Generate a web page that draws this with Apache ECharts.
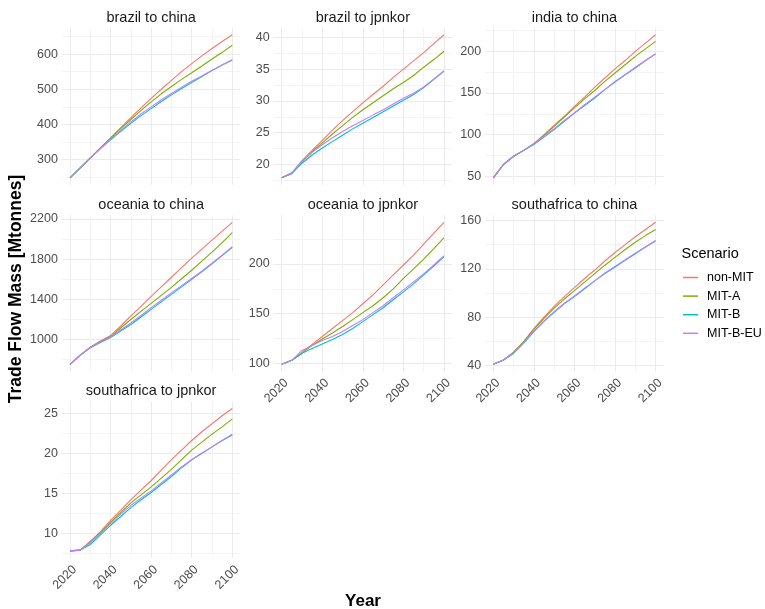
<!DOCTYPE html>
<html>
<head>
<meta charset="utf-8">
<script src="https://cdn.jsdelivr.net/npm/echarts@6/dist/echarts.min.js"></script>
<style>
  html, body { margin: 0; padding: 0; background: #ffffff; }
  #chart { width: 765px; height: 609px; }
</style>
</head>
<body>
<div id="chart"></div>
<script>
// ---- data ---------------------------------------------------------------
const years = [2020, 2025, 2030, 2035, 2040, 2045, 2050, 2055, 2060, 2065, 2070, 2075, 2080, 2085, 2090, 2095, 2100];
const scenarios = ['non-MIT', 'MIT-A', 'MIT-B', 'MIT-B-EU'];
const yearTicks = [2020, 2040, 2060, 2080, 2100];

// rows: non-MIT, MIT-A, MIT-B, MIT-B-EU
const brazilToChina = [
  [248, 276, 305, 333, 362, 391, 419, 447, 474, 500, 525, 550, 573, 595, 616, 636, 655],
  [248, 276, 305, 333, 361, 388, 414, 440, 464, 487, 508, 528, 547, 566, 586, 605, 625],
  [248, 276, 304, 331, 356, 380, 403, 425, 445, 465, 484, 502, 519, 536, 553, 569, 583],
  [248, 276, 304, 332, 358, 383, 407, 430, 450, 470, 488, 506, 523, 538, 554, 569, 584]
];
const brazilToChinaTicks = [300, 400, 500, 600];

const brazilToJpnkor = [
  [17.9, 18.7, 20.6, 22.2, 23.8, 25.4, 26.9, 28.3, 29.7, 31.0, 32.3, 33.7, 35.0, 36.3, 37.6, 39.0, 40.4],
  [17.9, 18.6, 20.4, 22.0, 23.4, 24.8, 26.1, 27.4, 28.6, 29.7, 30.8, 31.9, 32.9, 34.0, 35.3, 36.5, 37.8],
  [17.9, 18.6, 20.2, 21.5, 22.6, 23.6, 24.6, 25.6, 26.5, 27.4, 28.3, 29.2, 30.1, 31.0, 32.1, 33.4, 34.7],
  [17.9, 18.7, 20.5, 21.9, 23.1, 24.2, 25.2, 26.1, 26.9, 27.8, 28.6, 29.5, 30.4, 31.2, 32.2, 33.4, 34.7]
];
const brazilToJpnkorTicks = [20, 25, 30, 35, 40];

const indiaToChina = [
  [48, 64, 74, 81, 89, 100, 111, 122, 134, 145, 157, 168, 179, 189, 200, 210, 220],
  [48, 64, 74, 81, 89, 99, 110, 121, 132, 143, 153, 164, 174, 184, 194, 203, 212],
  [48, 64, 74, 81, 88, 97, 106, 116, 126, 135, 144, 154, 163, 172, 180, 189, 197],
  [48, 64, 74, 81, 89, 98, 107, 117, 126, 136, 145, 154, 164, 172, 181, 189, 197]
];
const indiaToChinaTicks = [50, 100, 150, 200];

const oceaniaToChina = [
  [754, 845, 925, 985, 1040, 1135, 1235, 1330, 1430, 1525, 1620, 1715, 1810, 1900, 1990, 2080, 2167],
  [754, 845, 923, 980, 1030, 1115, 1200, 1280, 1360, 1440, 1520, 1605, 1690, 1780, 1870, 1965, 2064],
  [754, 843, 918, 970, 1020, 1085, 1150, 1225, 1300, 1375, 1450, 1525, 1600, 1675, 1755, 1835, 1918],
  [754, 845, 921, 975, 1026, 1095, 1165, 1240, 1318, 1392, 1465, 1537, 1608, 1680, 1760, 1840, 1924]
];
const oceaniaToChinaTicks = [1000, 1400, 1800, 2200];

const oceaniaToJpnkor = [
  [99, 103, 111, 119, 127, 135, 143, 151, 160, 169, 179, 189, 199, 209, 220, 231, 242],
  [99, 103, 110, 118, 124.5, 130.5, 137, 144, 151, 158, 166, 175, 185.5, 195, 205, 215.5, 226.5],
  [99, 103, 110, 115, 119.5, 124, 129, 135, 142, 149, 156, 164, 172, 180, 189, 198, 207.5],
  [99, 103, 113, 118, 123, 127, 132, 138, 144, 151, 158, 166, 174, 182, 190, 199, 208.5]
];
const oceaniaToJpnkorTicks = [100, 150, 200];

const southafricaToChina = [
  [41, 44.5, 51, 60, 70.5, 80, 89, 97, 104.5, 112, 119, 126.5, 133.5, 140, 146.5, 152.5, 158.5],
  [41, 44.5, 51, 59.5, 70, 79, 87.5, 95, 102, 109, 116, 123, 129.5, 136, 142, 147.5, 152.5],
  [41, 44.5, 50, 58.5, 68, 76.5, 84, 91, 97, 103.5, 110, 116, 121.5, 127, 132.5, 138, 143],
  [41, 44.5, 50.5, 59, 68.5, 77, 84.5, 91.5, 97.5, 104, 110, 116.5, 122, 127.5, 133, 138, 143.5]
];
const southafricaToChinaTicks = [40, 80, 120, 160];

const southafricaToJpnkor = [
  [7.8, 7.9, 9.0, 10.2, 11.6, 12.9, 14.2, 15.4, 16.6, 17.9, 19.2, 20.4, 21.6, 22.7, 23.7, 24.7, 25.6],
  [7.8, 7.9, 8.9, 10.1, 11.4, 12.6, 13.8, 14.8, 15.8, 16.9, 18.0, 19.2, 20.4, 21.4, 22.4, 23.3, 24.3],
  [7.8, 7.9, 8.6, 9.8, 11.0, 12.1, 13.2, 14.2, 15.1, 16.1, 17.1, 18.2, 19.2, 20.0, 20.8, 21.6, 22.3],
  [7.8, 7.9, 8.8, 10.0, 11.2, 12.4, 13.5, 14.4, 15.3, 16.3, 17.3, 18.3, 19.2, 20.0, 20.8, 21.6, 22.4]
];
const southafricaToJpnkorTicks = [10, 15, 20, 25];

const panels = [
  { title: 'brazil to china', values: brazilToChina, ticks: brazilToChinaTicks },
  { title: 'brazil to jpnkor', values: brazilToJpnkor, ticks: brazilToJpnkorTicks },
  { title: 'india to china', values: indiaToChina, ticks: indiaToChinaTicks },
  { title: 'oceania to china', values: oceaniaToChina, ticks: oceaniaToChinaTicks },
  { title: 'oceania to jpnkor', values: oceaniaToJpnkor, ticks: oceaniaToJpnkorTicks },
  { title: 'southafrica to china', values: southafricaToChina, ticks: southafricaToChinaTicks },
  { title: 'southafrica to jpnkor', values: southafricaToJpnkor, ticks: southafricaToJpnkorTicks }
];

// ---- layout & style -----------------------------------------------------
const colours = ['#F8766D', '#7CAE00', '#00BFC4', '#C77CFF'];
const FONT = '"Liberation Sans", Arial, sans-serif';
const colLeft = [61.9, 273.6, 485.2];
const panelW = 178.5;
const rowTop = [27.6, 215.2, 401.4];
const rowH = [157.4, 156.2, 156.6];
const stripY = [17.5, 204.5, 390.5];
const showYears = [false, false, false, false, true, true, true];
const majorLine = { show: true, lineStyle: { color: '#EBEBEB', width: 1 } };
const minorLine = { show: true, lineStyle: { color: '#F4F4F4', width: 1 } };

// ggplot-style 5% expansion of the data range
function expand(lo, hi) {
  const pad = (hi - lo) * 0.05;
  return [lo - pad, hi + pad];
}
function midBreaks(ticks, lo, hi) {
  const step = ticks[1] - ticks[0];
  const out = [];
  for (let v = ticks[0] - step / 2; v <= hi; v += step) {
    if (v >= lo) out.push(v);
  }
  return out;
}

const grids = [], xAxes = [], yAxes = [], series = [], graphics = [];
const xRange = expand(years[0], years[years.length - 1]);
const xMinor = midBreaks(yearTicks, xRange[0], xRange[1]);

panels.forEach((p, i) => {
  const col = i % 3, row = Math.floor(i / 3);
  grids.push({
    left: colLeft[col], top: rowTop[row], width: panelW, height: rowH[row],
    containLabel: false, outerBoundsMode: 'none'
  });
  const flat = p.values.flat();
  const yRange = expand(Math.min(...flat), Math.max(...flat));
  const yMinor = midBreaks(p.ticks, yRange[0], yRange[1]);

  // major x axis (carries the data)
  xAxes.push({
    type: 'value', gridIndex: i, min: xRange[0], max: xRange[1],
    axisLine: { show: false },
    axisTick: { show: false, customValues: yearTicks },
    axisLabel: {
      show: showYears[i], customValues: yearTicks, rotate: 45, margin: 5,
      verticalAlign: 'top',
      color: '#4D4D4D', fontSize: 12.5, fontFamily: FONT,
      formatter: v => String(v)
    },
    splitLine: majorLine
  });
  // minor x grid
  xAxes.push({
    type: 'value', gridIndex: i, min: xRange[0], max: xRange[1],
    axisLine: { show: false },
    axisTick: { show: false, customValues: xMinor },
    axisLabel: { show: false, customValues: xMinor },
    splitLine: minorLine
  });
  yAxes.push({
    type: 'value', gridIndex: i, min: yRange[0], max: yRange[1],
    axisLine: { show: false },
    axisTick: { show: false, customValues: p.ticks },
    axisLabel: {
      customValues: p.ticks, margin: 4,
      color: '#4D4D4D', fontSize: 12.5, fontFamily: FONT,
      formatter: v => String(v)
    },
    splitLine: majorLine
  });
  yAxes.push({
    type: 'value', gridIndex: i, min: yRange[0], max: yRange[1],
    axisLine: { show: false },
    axisTick: { show: false, customValues: yMinor },
    axisLabel: { show: false, customValues: yMinor },
    splitLine: minorLine
  });

  p.values.forEach((vals, s) => {
    series.push({
      name: scenarios[s], type: 'line',
      xAxisIndex: 2 * i, yAxisIndex: 2 * i,
      data: years.map((y, k) => [y, vals[k]]),
      showSymbol: false, symbol: 'none',
      lineStyle: { width: 1.1, color: colours[s] },
      itemStyle: { color: colours[s] },
      z: 3 + s, silent: true, animation: false
    });
  });

  graphics.push({
    type: 'text', x: colLeft[col] + panelW / 2, y: stripY[row],
    style: {
      text: p.title, font: '14.5px ' + FONT, fill: '#1A1A1A',
      align: 'center', verticalAlign: 'middle',
      textAlign: 'center', textVerticalAlign: 'middle'
    }
  });
});

graphics.push({
  type: 'text', x: 16, y: 289, rotation: Math.PI / 2,
  style: {
    text: 'Trade Flow Mass [Mtonnes]', font: 'bold 17.5px ' + FONT, fill: '#000000',
    align: 'center', verticalAlign: 'middle', textAlign: 'center', textVerticalAlign: 'middle'
  }
});
graphics.push({
  type: 'text', x: 363, y: 601,
  style: {
    text: 'Year', font: 'bold 17px ' + FONT, fill: '#000000',
    align: 'center', verticalAlign: 'middle', textAlign: 'center', textVerticalAlign: 'middle'
  }
});
graphics.push({
  type: 'text', x: 681.5, y: 254,
  style: {
    text: 'Scenario', font: '14.5px ' + FONT, fill: '#000000',
    align: 'left', verticalAlign: 'middle', textAlign: 'left', textVerticalAlign: 'middle'
  }
});

const chart = echarts.init(document.getElementById('chart'), null, { renderer: 'canvas' });
chart.setOption({
  backgroundColor: '#ffffff',
  animation: false,
  grid: grids,
  xAxis: xAxes,
  yAxis: yAxes,
  series: series,
  legend: {
    data: scenarios, orient: 'vertical', left: 683, top: 271, padding: 0,
    icon: 'rect', itemWidth: 15, itemHeight: 1.5, itemGap: 5.6,
    textStyle: { fontSize: 12.5, fontFamily: FONT, color: '#000000', padding: [0, 0, 0, 4] },
    selectedMode: false
  },
  graphic: graphics
});
</script>
</body>
</html>
